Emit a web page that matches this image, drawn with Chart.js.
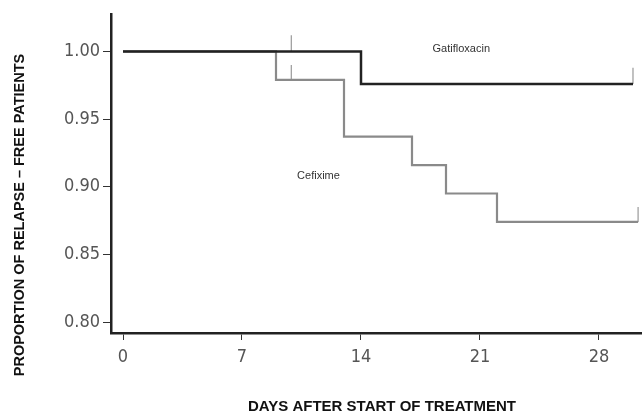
<!DOCTYPE html>
<html>
<head>
<meta charset="utf-8">
<script src="https://cdn.jsdelivr.net/npm/chart.js@4/dist/chart.umd.min.js"></script>
<style>
  html, body { margin: 0; padding: 0; background: #fff; }
  #wrap { width: 642px; height: 417px; }
</style>
</head>
<body>
<div id="wrap"><canvas id="km" width="642" height="417"></canvas></div>
<script>
// --- Data ---
const gatiDays = [0, 14, 30.0];
const gatiSurv = [1.000, 0.976, 0.976];
const cefiDays = [0, 9, 13, 17, 19, 22, 30.3];
const cefiSurv = [1.000, 0.979, 0.937, 0.916, 0.895, 0.874, 0.874];

// censored observations (small vertical marks)
const gatiCensorDays = [9.9, 30.0];
const gatiCensorSurv = [1.000, 0.976];
const cefiCensorDays = [9.9, 30.3];
const cefiCensorSurv = [0.979, 0.874];

const xTicks = [0, 7, 14, 21, 28];
const yTicks = [0.80, 0.85, 0.90, 0.95, 1.00];

const curveLabels = ['Gatifloxacin', 'Cefixime'];
const curveLabelDays = [19.9, 11.5];
const curveLabelSurv = [1.002, 0.908];

const xTitle = 'DAYS AFTER START OF TREATMENT';
const yTitle = 'PROPORTION OF RELAPSE \u2013 FREE PATIENTS';

// --- helpers ---
function toPoints(xs, ys) {
  return xs.map((x, i) => ({ x: x, y: ys[i] }));
}

// each censor mark is a short upward segment; null breaks the line between marks
function censorPoints(xs, ys, h) {
  const pts = [];
  xs.forEach((x, i) => {
    pts.push({ x: x, y: ys[i] });
    pts.push({ x: x, y: ys[i] + h });
    pts.push({ x: x, y: null });
  });
  return pts;
}

const narrow = "'Liberation Sans Narrow', 'DejaVu Sans Condensed', 'Liberation Sans', sans-serif";

// draws the in-plot curve labels and both axis titles
const textPlugin = {
  id: 'kmText',
  afterDraw(chart) {
    const ctx = chart.ctx;
    const xs = chart.scales.x, ys = chart.scales.y;
    ctx.save();
    ctx.fillStyle = '#333';
    ctx.font = "11px 'Liberation Sans', Arial, sans-serif";
    ctx.textAlign = 'center';
    ctx.textBaseline = 'middle';
    curveLabels.forEach((t, i) => {
      ctx.fillText(t, xs.getPixelForValue(curveLabelDays[i]), ys.getPixelForValue(curveLabelSurv[i]));
    });

    ctx.fillStyle = '#111';
    ctx.font = "bold 15px 'Liberation Sans', Arial, sans-serif";
    ctx.fillText(xTitle, 382, 407);

    ctx.font = "bold 14.5px 'Liberation Sans', Arial, sans-serif";
    ctx.translate(20, 215);
    ctx.rotate(-Math.PI / 2);
    ctx.fillText(yTitle, 0, 0);
    ctx.restore();
  }
};

const ctx = document.getElementById('km').getContext('2d');
new Chart(ctx, {
  type: 'scatter',
  data: {
    datasets: [
      {
        label: 'Gatifloxacin',
        data: toPoints(gatiDays, gatiSurv),
        showLine: true,
        stepped: true,
        borderColor: '#222',
        borderWidth: 2.5,
        pointRadius: 0
      },
      {
        label: 'Cefixime',
        data: toPoints(cefiDays, cefiSurv),
        showLine: true,
        stepped: true,
        borderColor: '#8a8a8a',
        borderWidth: 2.2,
        pointRadius: 0
      },
      {
        label: 'gati censored',
        data: censorPoints(gatiCensorDays, gatiCensorSurv, 0.012),
        showLine: true,
        spanGaps: false,
        borderColor: '#999',
        borderWidth: 1.2,
        pointRadius: 0
      },
      {
        label: 'cefi censored',
        data: censorPoints(cefiCensorDays, cefiCensorSurv, 0.011),
        showLine: true,
        spanGaps: false,
        borderColor: '#999',
        borderWidth: 1.2,
        pointRadius: 0
      }
    ]
  },
  options: {
    responsive: false,
    animation: false,
    layout: { padding: { top: 11, left: 0, right: 0, bottom: 0 } },
    plugins: {
      legend: { display: false },
      tooltip: { enabled: false }
    },
    scales: {
      x: {
        type: 'linear',
        min: -0.706,
        max: 30.53,
        afterBuildTicks: (s) => { s.ticks = xTicks.map(v => ({ value: v })); },
        afterFit: (s) => { s.height = 84; },
        border: { display: true, color: '#222', width: 2.5 },
        grid: { drawOnChartArea: false, drawTicks: true, tickLength: 7, color: '#333', lineWidth: 1 },
        ticks: {
          padding: 7,
          color: '#555',
          font: { family: narrow, size: 18 },
          maxRotation: 0
        }
      },
      y: {
        min: 0.7919,
        max: 1.0278,
        afterBuildTicks: (s) => { s.ticks = yTicks.map(v => ({ value: v })); },
        afterFit: (s) => { s.width = 111; },
        border: { display: true, color: '#222', width: 2.5 },
        grid: { drawOnChartArea: false, drawTicks: true, tickLength: 8, color: '#333', lineWidth: 1 },
        ticks: {
          padding: 3,
          color: '#555',
          font: { family: narrow, size: 18 },
          callback: (v) => Number(v).toFixed(2)
        }
      }
    }
  },
  plugins: [textPlugin]
});
</script>
</body>
</html>
